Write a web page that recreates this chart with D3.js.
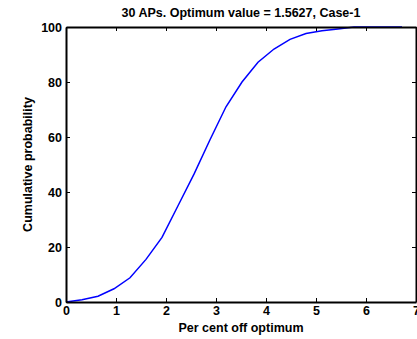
<!DOCTYPE html>
<html>
<head>
<meta charset="utf-8">
<script src="https://cdn.jsdelivr.net/npm/d3@7"></script>
<style>
body { margin: 0; background: #fff; }
svg { display: block; font-family: "Liberation Sans", Arial, sans-serif; }
.axis text { font-size: 12.5px; font-weight: bold; fill: #000; }
</style>
</head>
<body>
<svg id="chart" width="417" height="339"></svg>
<script>
var xValues = [0, 0.32, 0.64, 0.96, 1.28, 1.60, 1.92, 2.24, 2.56, 2.88, 3.20, 3.52, 3.84, 4.16, 4.48, 4.80, 5.12, 5.44, 5.76, 6.08, 6.40, 6.72];
var cumProb = [0, 0.8, 2.1, 4.8, 8.8, 15.5, 23.5, 35, 46.5, 59, 71, 80, 87.2, 92, 95.5, 97.6, 98.6, 99.3, 100, 100, 100, 100];
var xTicks = [0, 1, 2, 3, 4, 5, 6, 7];
var yTicks = [0, 20, 40, 60, 80, 100];
var title = "30 APs. Optimum value = 1.5627, Case-1";

var svg = d3.select("#chart");
var margin = {top: 27, right: 1, bottom: 37, left: 66};
var width = +svg.attr("width") - margin.left - margin.right;
var height = +svg.attr("height") - margin.top - margin.bottom;

var x = d3.scaleLinear().domain([0, 7]).range([0, width]);
var y = d3.scaleLinear().domain([0, 100]).range([height, 0]);

var g = svg.append("g")
    .attr("transform", "translate(" + margin.left + "," + margin.top + ")");

// line
var line = d3.line()
    .x(function(d, i) { return x(xValues[i]); })
    .y(function(d) { return y(d); });

g.append("path")
    .datum(cumProb)
    .attr("fill", "none")
    .attr("stroke", "#0000ff")
    .attr("stroke-width", 1.5)
    .attr("d", line);

// axes, ticks point inward like matlab
g.append("g")
    .attr("class", "x axis")
    .attr("transform", "translate(0," + height + ")")
    .call(d3.axisBottom(x).tickValues(xTicks).tickFormat(d3.format("d")).tickSizeInner(-4).tickSizeOuter(0).tickPadding(5));

g.append("g")
    .attr("class", "x axis top")
    .call(d3.axisTop(x).tickValues(xTicks).tickSizeInner(-4).tickSizeOuter(0).tickFormat(""));

g.append("g")
    .attr("class", "y axis")
    .call(d3.axisLeft(y).tickValues(yTicks).tickSizeInner(-4).tickSizeOuter(0).tickPadding(4));

g.append("g")
    .attr("class", "y axis right")
    .attr("transform", "translate(" + width + ",0)")
    .call(d3.axisRight(y).tickValues(yTicks).tickSizeInner(-4).tickSizeOuter(0).tickFormat(""));

g.selectAll(".axis path").attr("stroke", "#000").attr("stroke-width", 2);
g.selectAll(".axis line").attr("stroke", "#000").attr("stroke-width", 1);
g.selectAll(".x.axis text").attr("dy", "0.6em");

// labels
svg.append("text")
    .attr("x", margin.left + width / 2)
    .attr("y", 17)
    .attr("text-anchor", "middle")
    .style("font-size", "12.5px")
    .style("font-weight", "bold")
    .text(title);

svg.append("text")
    .attr("x", margin.left + width / 2)
    .attr("y", 332)
    .attr("text-anchor", "middle")
    .style("font-size", "12.5px")
    .style("font-weight", "bold")
    .text("Per cent off optimum");

svg.append("text")
    .attr("transform", "translate(32," + (margin.top + height / 2) + ") rotate(-90)")
    .attr("text-anchor", "middle")
    .style("font-size", "12.5px")
    .style("font-weight", "bold")
    .text("Cumulative probability");
</script>
</body>
</html>
